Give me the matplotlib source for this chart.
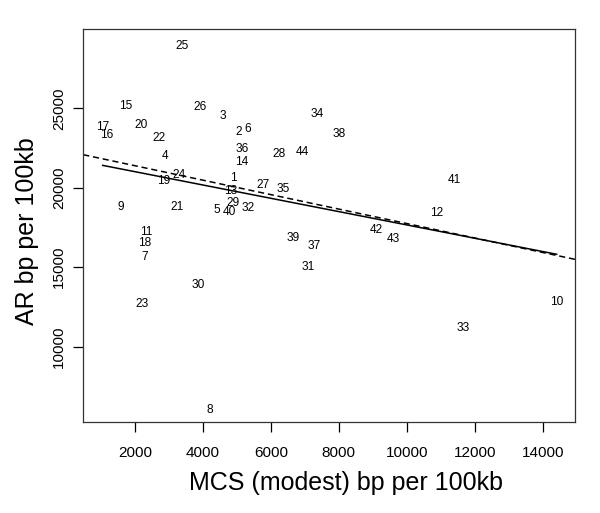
import numpy as np
import matplotlib
matplotlib.use("Agg")
import matplotlib.pyplot as plt

labels = [str(i) for i in range(1, 45)]
mcs = [4884, 5061, 4599, 2892, 4405, 5317, 2285, 4199, 1597, 14412,
       2324, 10868, 4805, 5129, 1735, 1167, 1049, 2274, 2854, 2177,
       3227, 2698, 2206, 3304, 3375, 3913, 5767, 6238, 4893, 3863,
       7112, 5326, 11654, 7366, 6356, 5170, 7289, 8004, 6659, 4776,
       11389, 9114, 9603, 6915]
ar = [20634, 23528, 24535, 22000, 18601, 23717, 15625, 6000, 18809, 12831,
      17198, 18413, 19778, 21602, 25164, 23302, 23843, 16544, 20407, 23950,
      18809, 23132, 12687, 20785, 28939, 25101, 20155, 22125, 19061, 13863,
      14996, 18746, 11158, 24642, 19923, 22420, 16317, 23402, 16858, 18475,
      20489, 17362, 16777, 22232]
xticks = [2000, 4000, 6000, 8000, 10000, 12000, 14000]
yticks = [10000, 15000, 20000, 25000]


def huber_fit(x, y, k=1.345, n_iter=50):
    x = np.asarray(x, float)
    y = np.asarray(y, float)
    X = np.column_stack([np.ones_like(x), x])
    beta = np.linalg.lstsq(X, y, rcond=None)[0]
    for _ in range(n_iter):
        r = y - X @ beta
        s = np.median(np.abs(r)) / 0.6745
        u = np.abs(r) / s
        w = np.where(u <= k, 1.0, k / u)
        W = np.sqrt(w)
        beta_new = np.linalg.lstsq(X * W[:, None], y * W, rcond=None)[0]
        if np.allclose(beta_new, beta, rtol=1e-8):
            beta = beta_new
            break
        beta = beta_new
    return beta


plt.rcParams['font.family'] = ['Liberation Sans', 'DejaVu Sans']

fig = plt.figure(figsize=(6.0, 5.13), dpi=100)
ax = fig.add_axes([0.1388, 0.1774, 0.9583 - 0.1388, 0.9429 - 0.1774])

for lab, xv, yv in zip(labels, mcs, ar):
    ax.text(xv, yv, lab, ha='center', va='center', fontsize=8.6, color='black')

# solid: least-squares fit drawn over the data range
m, b = np.polyfit(mcs, ar, 1)
xs = np.array([min(mcs), max(mcs)], float)
ax.plot(xs, m * xs + b, color='black', lw=1.1)

# dashed: robust (Huber) fit across the whole panel
b0, b1 = huber_fit(mcs, ar)
ax.axline((0, b0), slope=b1, color='black', lw=1.1, dashes=(4, 2.5))

ax.set_xlim(478, 14951)
ax.set_ylim(5262, 29971)
ax.set_xticks(xticks)
ax.set_xticklabels([str(t) for t in xticks])
ax.set_yticks(yticks)
ax.set_yticklabels([str(t) for t in yticks], rotation=90, va='center')
ax.tick_params(axis='x', direction='out', length=7, width=0.9, labelsize=11, pad=10.5, colors='black')
ax.tick_params(axis='y', direction='out', length=7, width=0.9, labelsize=11, pad=5.5, colors='black')
for s in ax.spines.values():
    s.set_linewidth(0.9)
    s.set_color('#333333')

ax.set_xlabel('MCS (modest) bp per 100kb', fontsize=18)
ax.set_ylabel('AR bp per 100kb', fontsize=18)
ax.xaxis.set_label_coords(0.534, -0.126)
ax.yaxis.set_label_coords(-0.091, 0.487)

fig.savefig('out.png', dpi=100)
